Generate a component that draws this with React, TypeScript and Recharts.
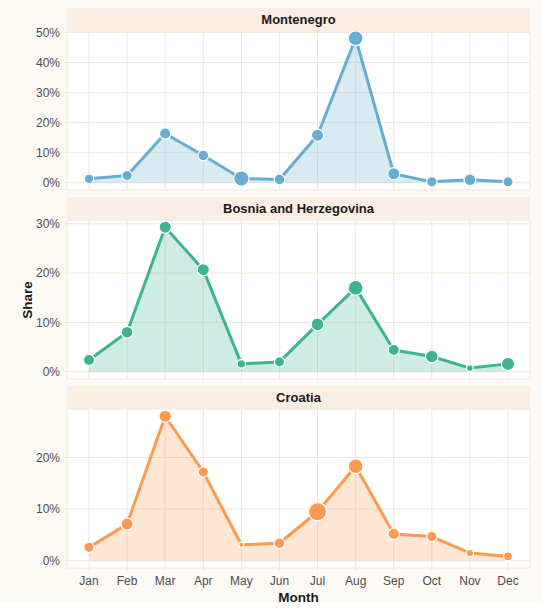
import React from 'react';
import { AreaChart, Area, XAxis, YAxis, CartesianGrid } from 'recharts';

const months = ['Jan', 'Feb', 'Mar', 'Apr', 'May', 'Jun', 'Jul', 'Aug', 'Sep', 'Oct', 'Nov', 'Dec'];

const montenegroShare = [1.3, 2.4, 16.4, 9.1, 1.4, 1.1, 15.8, 48.1, 3.0, 0.3, 1.0, 0.3];
const montenegroSize = [5.3, 5.8, 6.3, 6, 8.3, 6, 6.7, 8, 6.7, 5.8, 6.5, 5.7];
const montenegroTicks = [0, 10, 20, 30, 40, 50];

const bosniaShare = [2.4, 8.0, 29.3, 20.7, 1.6, 2.0, 9.6, 17.0, 4.4, 3.1, 0.75, 1.6];
const bosniaSize = [6.2, 6.5, 6.7, 6.7, 4.8, 5.7, 7, 8, 6.2, 7, 4, 7.2];
const bosniaTicks = [0, 10, 20, 30];

const croatiaShare = [2.6, 7.1, 28.0, 17.2, 3.1, 3.4, 9.5, 18.3, 5.2, 4.7, 1.5, 0.85];
const croatiaSize = [5.8, 6.7, 6.8, 5.7, 3.2, 6, 9.7, 8, 6.3, 5.8, 4.3, 5];
const croatiaTicks = [0, 10, 20];

const GRID = '#efe6dc';
const STRIP = '#faede2';
const BG = '#fdfaf5';
const PLOT_H = 159;
const PAD = 10;

function buildRows(values: number[], sizes: number[]) {
  return months.map((m, i) => ({ month: m, value: values[i], size: sizes[i] }));
}

function makeDot(color: string) {
  return (props: any) => {
    const { cx, cy, index, payload } = props;
    if (cx == null || cy == null) return <g key={`n-${index}`} />;
    return (
      <circle
        key={`d-${index}`}
        cx={cx}
        cy={cy}
        r={Math.max(payload.size - 0.6, 1)}
        fill={color}
        stroke="#ffffff"
        strokeWidth={1.2}
      />
    );
  };
}

type PanelProps = {
  title: string;
  rows: { month: string; value: number; size: number }[];
  color: string;
  ticks: number[];
  plotTop: number;
  showX: boolean;
};

function Panel({ title, rows, color, ticks, plotTop, showX }: PanelProps) {
  const max = Math.max(...rows.map((r) => r.value));
  const domain = [-max * 0.05, max * 1.05];
  const xh = showX ? 30 : 0;
  const height = PLOT_H + PAD + (showX ? xh : PAD);
  return (
    <>
      <div
        style={{
          position: 'absolute',
          left: 67,
          top: plotTop - 23,
          width: 463,
          height: 23,
          background: STRIP,
          display: 'flex',
          alignItems: 'center',
          justifyContent: 'center',
          fontWeight: 'bold',
          fontSize: 13,
          color: '#1a1a1a',
        }}
      >
        {title}
      </div>
      <div style={{ position: 'absolute', left: 0, top: plotTop - PAD }}>
        <AreaChart
          width={550}
          height={height}
          data={rows}
          margin={{ top: PAD, right: 20, left: 0, bottom: showX ? 0 : PAD }}
        >
          <CartesianGrid stroke={GRID} strokeWidth={1} fill="#ffffff" fillOpacity={1} />
          <XAxis
            dataKey="month"
            hide={!showX}
            padding={{ left: 22, right: 22 }}
            axisLine={false}
            tickLine={{ stroke: GRID }}
            tickSize={3}
            tickMargin={5}
            tick={{ fill: '#4d4d4d', fontSize: 12 }}
            height={xh}
            interval={0}
          />
          <YAxis
            type="number"
            domain={domain as any}
            ticks={ticks}
            allowDataOverflow
            width={67}
            axisLine={false}
            tickLine={{ stroke: GRID }}
            tickSize={3}
            tickMargin={4}
            tick={{ fill: '#4d4d4d', fontSize: 12 }}
            tickFormatter={(v: number) => `${v}%`}
          />
          <Area
            type="linear"
            dataKey="value"
            baseValue={0}
            stroke={color}
            strokeWidth={3}
            strokeLinejoin="round"
            fill={color}
            fillOpacity={0.25}
            dot={makeDot(color)}
            activeDot={false}
            isAnimationActive={false}
          />
        </AreaChart>
      </div>
    </>
  );
}

export default function App() {
  return (
    <div
      style={{
        position: 'absolute',
        left: 0,
        top: 0,
        width: 550,
        height: 613,
        background: '#ffffff',
        fontFamily: '"Liberation Sans", Arial, Helvetica, sans-serif',
        overflow: 'hidden',
      }}
    >
      <div style={{ position: 'absolute', left: 0, top: 0, width: 542, height: 603, background: BG }} />
      <Panel
        title="Montenegro"
        rows={buildRows(montenegroShare, montenegroSize)}
        color="#66add1"
        ticks={montenegroTicks}
        plotTop={31}
        showX={false}
      />
      <Panel
        title="Bosnia and Herzegovina"
        rows={buildRows(bosniaShare, bosniaSize)}
        color="#3db491"
        ticks={bosniaTicks}
        plotTop={220}
        showX={false}
      />
      <Panel
        title="Croatia"
        rows={buildRows(croatiaShare, croatiaSize)}
        color="#fd9a52"
        ticks={croatiaTicks}
        plotTop={409}
        showX={true}
      />
      <div
        style={{
          position: 'absolute',
          left: 27,
          top: 300,
          transform: 'translate(-50%, -50%) rotate(-90deg)',
          fontWeight: 'bold',
          fontSize: 13.5,
          color: '#1a1a1a',
          whiteSpace: 'nowrap',
        }}
      >
        Share
      </div>
      <div
        style={{
          position: 'absolute',
          left: 298.5,
          top: 597,
          transform: 'translate(-50%, -50%)',
          fontWeight: 'bold',
          fontSize: 13.5,
          color: '#1a1a1a',
          whiteSpace: 'nowrap',
        }}
      >
        Month
      </div>
    </div>
  );
}
